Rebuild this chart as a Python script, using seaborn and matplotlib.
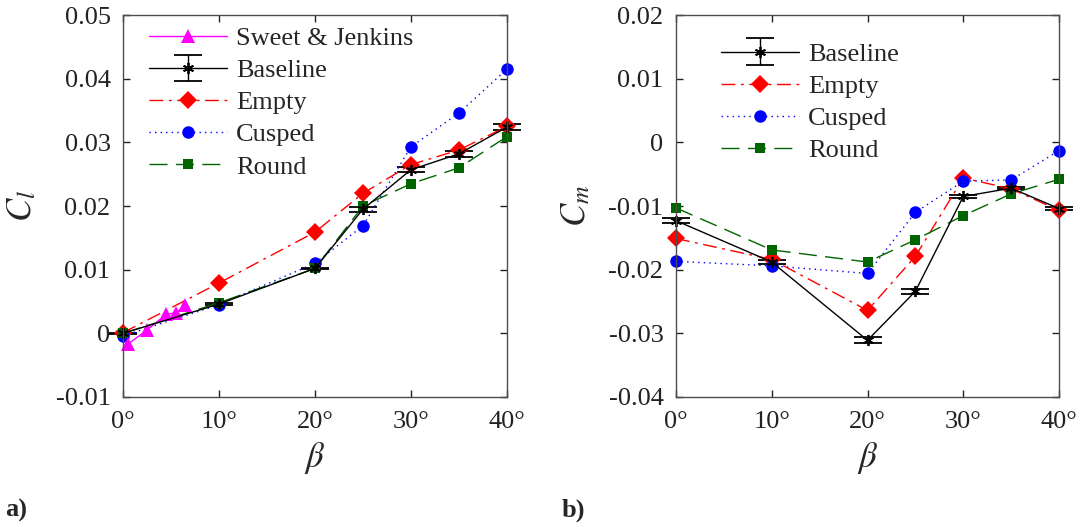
import numpy as np
import pandas as pd
import matplotlib
matplotlib.use("Agg")
import matplotlib.pyplot as plt
from matplotlib import font_manager
import seaborn as sns

# ---- data -------------------------------------------------------------
beta = [0, 10, 20, 25, 30, 35, 40]

# Sweet & Jenkins reference measurements (rolling moment)
sj_beta = [0.5, 2.5, 4.5, 5.5, 6.5]
sj_cl = [-0.0017, 0.0005, 0.0030, 0.0032, 0.0044]

# rolling moment coefficient C_l
cl_baseline = [0.0000, 0.0046, 0.0102, 0.0195, 0.0257, 0.0282, 0.0324]
cl_baseline_err = [0.0001, 0.0001, 0.0001, 0.0004, 0.0004, 0.00045, 0.0005]
cl_empty = [0.0001, 0.0079, 0.0159, 0.0220, 0.0265, 0.0288, 0.0325]
cl_cusped = [-0.0004, 0.0045, 0.0110, 0.0169, 0.0293, 0.0346, 0.0415]
cl_round = [0.0000, 0.0048, 0.0102, 0.0200, 0.0235, 0.0260, 0.0309]

# pitching moment coefficient C_m
cm_baseline = [-0.0123, -0.0188, -0.0311, -0.0234, -0.0085, -0.0072, -0.0104]
cm_baseline_err = [0.0004, 0.0003, 0.00045, 0.0004, 0.0003, 0.0002, 0.0002]
cm_empty = [-0.0151, -0.0184, -0.0264, -0.0179, -0.0056, -0.0073, -0.0107]
cm_cusped = [-0.0187, -0.0194, -0.0206, -0.0110, -0.0061, -0.0059, -0.0013]
cm_round = [-0.0103, -0.0169, -0.0188, -0.0153, -0.0115, -0.0081, -0.0058]

xticks = [0, 10, 20, 30, 40]
xtick_labels = ["0°", "10°", "20°", "30°", "40°"]
cl_ticks = [-0.01, 0, 0.01, 0.02, 0.03, 0.04, 0.05]
cl_tick_labels = ["-0.01", "0", "0.01", "0.02", "0.03", "0.04", "0.05"]
cm_ticks = [-0.04, -0.03, -0.02, -0.01, 0, 0.01, 0.02]
cm_tick_labels = ["-0.04", "-0.03", "-0.02", "-0.01", "0", "0.01", "0.02"]

# ---- style ------------------------------------------------------------
sns.set_theme(style="ticks")

# register a Times-like serif face explicitly
serif_name = "DejaVu Serif"
for path in font_manager.findSystemFonts():
    base = path.replace("\\", "/").split("/")[-1].lower()
    if base.startswith("liberationserif"):
        font_manager.fontManager.addfont(path)
        serif_name = font_manager.FontProperties(fname=path).get_name()

plt.rcParams["font.family"] = "serif"
plt.rcParams["font.serif"] = [serif_name, "DejaVu Serif"]
plt.rcParams["mathtext.fontset"] = "stix"
plt.rcParams["axes.edgecolor"] = "#4d4d4d"
plt.rcParams["axes.linewidth"] = 1.0

FS = 19
GREEN = "#006400"
ASTERISK = (6, 2, 0)

fig = plt.figure(figsize=(10.8, 5.27), dpi=100)
axL = fig.add_axes([0.1139, 0.2467, 0.3555, 0.7248])
axR = fig.add_axes([0.6259, 0.2467, 0.3547, 0.7248])


def series(ax, x, y, color, marker, ms, dashes, label):
    df = pd.DataFrame({"beta": x, "val": y})
    sns.lineplot(data=df, x="beta", y="val", ax=ax, color=color,
                 marker=marker, markersize=ms, markeredgewidth=0,
                 linewidth=1.0, dashes=False, sort=False, estimator=None,
                 label=label, legend=False, clip_on=False)
    line = ax.get_lines()[-1]
    if dashes is not None:
        line.set_dashes(dashes)
    return line


def baseline(ax, y, err):
    cont = ax.errorbar(beta, y, yerr=err, color="black", marker=ASTERISK,
                       markersize=8, markeredgewidth=1.3, linewidth=1.0,
                       elinewidth=1.0, capsize=10, capthick=1.8,
                       label="Baseline")
    for art in cont.get_children():
        art.set_clip_on(False)
    return cont


# left panel: C_l
h_base = baseline(axL, cl_baseline, cl_baseline_err)
h_empty = series(axL, beta, cl_empty, "red", "D", 9.5, (10, 4, 2, 4), "Empty")
h_cusp = series(axL, beta, cl_cusped, "blue", "o", 9, (1, 3), "Cusped")
h_round = series(axL, beta, cl_round, GREEN, "s", 7.2, (13, 6), "Round")
h_sj = series(axL, sj_beta, sj_cl, "magenta", "^", 10, None, "Sweet & Jenkins")

leg_kw = dict(loc="upper left", frameon=False, fontsize=FS,
              handlelength=2.95, labelspacing=0.33, handletextpad=0.35,
              borderaxespad=0.0)

axL.legend([h_sj, h_base, h_empty, h_cusp, h_round],
           ["Sweet & Jenkins", "Baseline", "Empty", "Cusped", "Round"],
           bbox_to_anchor=(0.04, 0.998), **leg_kw)

# right panel: C_m
h_base2 = baseline(axR, cm_baseline, cm_baseline_err)
h_empty2 = series(axR, beta, cm_empty, "red", "D", 9.5, (10, 4, 2, 4), "Empty")
h_cusp2 = series(axR, beta, cm_cusped, "blue", "o", 9, (1, 3), "Cusped")
h_round2 = series(axR, beta, cm_round, GREEN, "s", 7.2, (13, 6), "Round")

axR.legend([h_base2, h_empty2, h_cusp2, h_round2],
           ["Baseline", "Empty", "Cusped", "Round"],
           bbox_to_anchor=(0.09, 0.956), **leg_kw)

for ax, ticks, labels, ylab, lpad in [
    (axL, cl_ticks, cl_tick_labels, r"$C_l$", 12),
    (axR, cm_ticks, cm_tick_labels, r"$C_m$", 11),
]:
    ax.set_xlim(0, 40)
    ax.set_ylim(ticks[0], ticks[-1])
    ax.set_xticks(xticks)
    ax.set_xticklabels(xtick_labels)
    ax.set_yticks(ticks)
    ax.set_yticklabels(labels)
    ax.tick_params(direction="in", length=5, width=1.0, colors="#222222",
                   labelsize=FS, top=True, right=True)
    ax.tick_params(axis="x", pad=10)
    ax.tick_params(axis="y", pad=9)
    for sp in ax.spines.values():
        sp.set_visible(True)
    ax.set_xlabel(r"$\beta$", fontsize=25, labelpad=5)
    ax.set_ylabel(ylab, fontsize=25, labelpad=lpad)

fig.text(0.005, 0.02, "a)", fontsize=19, fontweight="bold")
fig.text(0.52, 0.02, "b)", fontsize=19, fontweight="bold")

fig.savefig("out.png", dpi=100)
